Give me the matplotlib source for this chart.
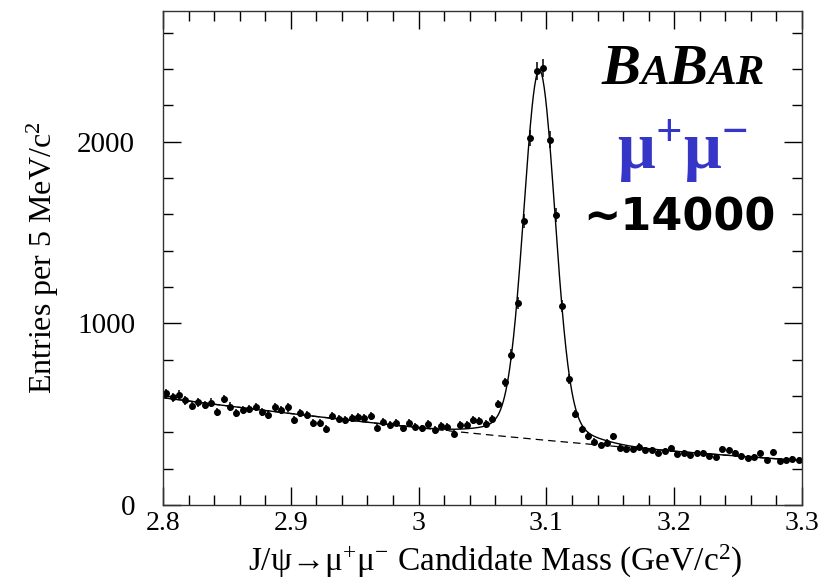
import numpy as np
import matplotlib
matplotlib.use('Agg')
import matplotlib.pyplot as plt
from matplotlib.ticker import MultipleLocator
from matplotlib.offsetbox import TextArea, HPacker, AnnotationBbox

plt.rcParams['font.family'] = ['Liberation Serif', 'DejaVu Serif']
plt.rcParams['mathtext.fontset'] = 'custom'
plt.rcParams['mathtext.rm'] = 'Liberation Serif'
plt.rcParams['mathtext.it'] = 'Liberation Serif:italic'
plt.rcParams['mathtext.bf'] = 'Liberation Serif:bold'

# histogram: 5 MeV bins from 2.8 to 3.3 GeV
mass_lo = 2.8
mass_hi = 3.3
bin_width = 0.005
counts = np.array([
    615, 592, 606, 577, 545, 566, 551, 563, 514, 584, 542, 505, 523, 527, 540, 510, 494, 538, 523, 538, 467, 508,
    494, 450, 453, 418, 492, 474, 468, 481, 487, 477, 492, 426, 455, 441, 454, 422, 454, 432, 422, 446,
    412, 435, 430, 393, 441, 443, 467, 463, 446, 474,
    557, 676, 828, 1112, 1565, 2022, 2390, 2408, 2012, 1597, 1097, 695, 501, 417, 380, 349, 331,
    344, 378, 316, 310, 307, 321, 303, 301, 285, 296, 312, 281, 285, 274, 285, 285, 271, 263, 307, 303,
    287, 270, 259, 263, 285, 246, 290, 242, 250, 252, 250])
mass = mass_lo + bin_width * (np.arange(len(counts)) + 0.5)
errors = np.sqrt(counts)


# fit: quadratic background + double gaussian (scan mean/widths, linear lstsq for the rest)
def gauss(m, mu, s):
    return np.exp(-0.5 * ((m - mu) / s) ** 2)


def basis(m, mu, s1, s2):
    t = m - 3.05
    return np.column_stack([np.ones_like(m), t, t * t, gauss(m, mu, s1), gauss(m, mu, s2)])


best = None
for mu in np.arange(3.093, 3.1, 0.0005):
    for s1 in np.arange(0.008, 0.016, 0.0005):
        for s2 in np.arange(0.016, 0.04, 0.002):
            A = basis(mass, mu, s1, s2) / errors[:, None]
            c = np.linalg.lstsq(A, counts / errors, rcond=None)[0]
            chi2 = np.sum((A @ c - counts / errors) ** 2)
            if best is None or chi2 < best[0]:
                best = (chi2, mu, s1, s2, c)

_, mu, s1, s2, c = best
mm = np.linspace(mass_lo, mass_hi, 1000)
B = basis(mm, mu, s1, s2)
fit_total = B @ c
fit_bkg = B[:, :3] @ c[:3]

fig = plt.figure(figsize=(8.29, 5.85), dpi=100)
ax = fig.add_axes([163 / 829, 1 - 505 / 585, 639 / 829, 494 / 585])

ax.plot(mm, fit_bkg, color='black', lw=0.9, ls=(0, (6, 4)))
ax.plot(mm, fit_total, color='black', lw=1.0)
ax.errorbar(mass, counts, yerr=errors, fmt='o', color='black', ms=4,
            elinewidth=1.1, capsize=0)

ax.set_xlim(mass_lo, mass_hi)
ax.set_ylim(0, 2720)
ax.xaxis.set_major_locator(MultipleLocator(0.1))
ax.xaxis.set_minor_locator(MultipleLocator(0.02))
ax.yaxis.set_major_locator(MultipleLocator(1000))
ax.yaxis.set_minor_locator(MultipleLocator(200))
ax.set_xticks([2.8, 2.9, 3.0, 3.1, 3.2, 3.3])
ax.set_xticklabels(['2.8', '2.9', '3', '3.1', '3.2', '3.3'])
ax.tick_params(which='both', direction='in', top=True, right=True, labelsize=21)
ax.tick_params(axis='x', labelsize=20)
ax.tick_params(which='major', length=13, width=1)
ax.tick_params(which='minor', length=7, width=1)
ax.tick_params(axis='y', pad=20)
ax.tick_params(axis='x', pad=4)
for sp in ax.spines.values():
    sp.set_linewidth(1.0)
    sp.set_color('#333333')

ax.set_ylabel('Entries per 5 MeV/c$^{2}$', fontsize=23)
ax.yaxis.set_label_coords(-0.16, 0.5)
ax.set_xlabel('J/ψ→μ$^{+}$μ$^{-}$ Candidate Mass (GeV/c$^{2}$)', fontsize=24)
ax.xaxis.set_label_coords(0.52, -0.076)

# BABAR logo with small caps
big = dict(family='Liberation Serif', weight='bold', style='italic', size=42, color='black')
small = dict(big, size=31)
logo = HPacker(children=[TextArea('B', textprops=big), TextArea('A', textprops=small),
                         TextArea('B', textprops=big), TextArea('AR', textprops=small)],
               align='baseline', pad=0, sep=0)
fig.add_artist(AnnotationBbox(logo, (683, 585 - 70), xycoords='figure pixels', frameon=False,
                              box_alignment=(0.5, 0.5)))

fig.text(682 / 829, 1 - 150 / 585, r'$\mathbf{μ^{+}μ^{-}}$', color='#3535c8', fontsize=48,
         ha='center', va='center')
fig.text(679 / 829, 1 - 218 / 585, '~14000', family='DejaVu Sans', weight='bold', fontsize=32,
         ha='center', va='center')

fig.savefig('out.png', dpi=100)
